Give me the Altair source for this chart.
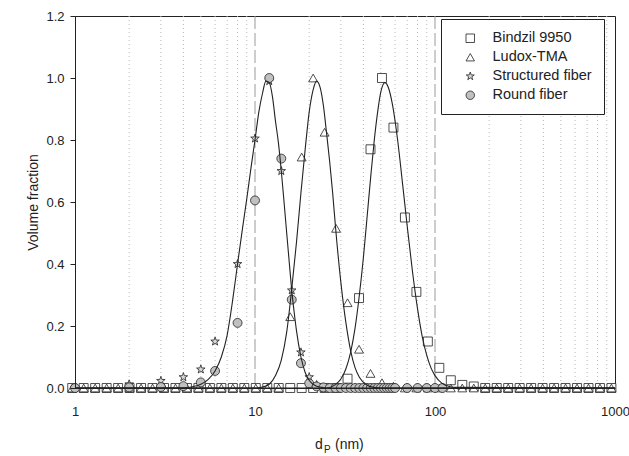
import altair as alt
import pandas as pd

series_names = ["Bindzil 9950", "Ludox-TMA", "Structured fiber", "Round fiber"]

# DLS size classes (nm) shared by Bindzil and Ludox
dls_x = [0.965, 1.117, 1.294, 1.499, 1.736, 2.010, 2.328, 2.696, 3.122, 3.615,
         4.187, 4.849, 5.615, 6.503, 7.531, 8.721, 10.10, 11.70, 13.54, 15.69,
         18.17, 21.04, 24.36, 28.21, 32.67, 37.84, 43.82, 50.75, 58.77, 68.06,
         78.82, 91.28, 105.7, 122.4, 141.8, 164.2, 190.1, 220.2, 255.0, 295.3,
         342.0, 396.1, 458.7, 531.2, 615.1, 712.4, 825.0, 955.4]
bindzil_y = [0, 0, 0, 0, 0, 0, 0, 0, 0, 0,
             0, 0, 0, 0, 0, 0, 0, 0, 0, 0,
             0, 0, 0, 0, 0.03, 0.29, 0.77, 1.0, 0.84, 0.55,
             0.31, 0.15, 0.065, 0.025, 0.01, 0.005, 0, 0, 0, 0,
             0, 0, 0, 0, 0, 0, 0, 0]
ludox_y = [0, 0, 0, 0, 0, 0, 0, 0, 0, 0,
           0, 0, 0, 0, 0, 0, 0, 0, 0, 0.23,
           0.745, 1.0, 0.825, 0.515, 0.275, 0.125, 0.047, 0.017, 0.006, 0,
           0, 0, 0, 0, 0, 0, 0, 0, 0, 0,
           0, 0, 0, 0, 0, 0, 0, 0]

# fiber size classes (nm)
fiber_x = [1, 2, 3, 4, 5, 6, 8, 10, 12, 14, 16, 18, 20, 22, 24, 26, 28, 30, 32,
           34, 36, 38, 40, 42, 44, 46, 48, 50, 52, 54, 56, 58, 60, 70, 80, 90,
           100, 110]
structured_y = [0, 0.012, 0.023, 0.035, 0.06, 0.15, 0.40, 0.805, 0.99, 0.70,
                0.315, 0.115, 0.035, 0.01, 0, 0, 0, 0, 0, 0, 0, 0, 0, 0, 0, 0,
                0, 0, 0, 0, 0, 0, 0, 0, 0, 0, 0, 0]
round_y = [0, 0.002, 0.003, 0.006, 0.018, 0.055, 0.21, 0.605, 1.0, 0.74,
           0.285, 0.08, 0.015, 0.005, 0.002, 0, 0, 0, 0, 0, 0, 0, 0, 0, 0, 0,
           0, 0, 0, 0, 0, 0, 0, 0, 0, 0, 0, 0]

# fitted curves
fiber_curve_x = [1, 4, 4.5, 5, 5.5, 6, 6.5, 7, 7.5, 8, 8.5, 9, 9.5, 10, 10.5,
                 11, 11.5, 12, 12.5, 13, 13.5, 14, 14.5, 15, 15.5, 16, 16.5,
                 17, 18, 19, 20, 21, 22, 24, 25, 1000]
fiber_curve_y = [0, 0, 0.004, 0.012, 0.028, 0.055, 0.10, 0.17, 0.28, 0.40,
                 0.51, 0.61, 0.71, 0.80, 0.89, 0.95, 0.99, 0.985, 0.94, 0.86,
                 0.79, 0.70, 0.60, 0.50, 0.405, 0.315, 0.245, 0.185, 0.10,
                 0.05, 0.025, 0.012, 0.006, 0.001, 0, 0]
ludox_curve_x = [1, 10, 11, 12, 13, 14, 15, 16, 17, 18, 19, 20, 21, 22, 23, 24,
                 25, 26, 27, 28, 30, 32, 34, 36, 38, 42, 46, 50, 1000]
ludox_curve_y = [0, 0, 0.003, 0.012, 0.04, 0.09, 0.18, 0.32, 0.47, 0.63, 0.77,
                 0.89, 0.96, 0.99, 0.97, 0.91, 0.82, 0.73, 0.63, 0.52, 0.34,
                 0.21, 0.12, 0.065, 0.035, 0.009, 0.002, 0, 0]
bindzil_curve_x = [1, 25, 28, 30, 32, 34, 36, 38, 40, 42, 44, 46, 48, 50, 52.7,
                   55, 58, 62, 66, 70, 75, 80, 85, 90, 95, 100, 110, 120, 130,
                   1000]
bindzil_curve_y = [0, 0, 0.011, 0.029, 0.062, 0.116, 0.195, 0.30, 0.42, 0.555,
                   0.685, 0.80, 0.89, 0.955, 0.985, 0.97, 0.915, 0.80, 0.66,
                   0.525, 0.375, 0.255, 0.165, 0.105, 0.065, 0.04, 0.014,
                   0.005, 0.002, 0]

minor_grid = [2, 3, 4, 5, 6, 7, 8, 9, 20, 30, 40, 50, 60, 70, 80, 90,
              200, 300, 400, 500, 600, 700, 800, 900]
major_grid = [10, 100]
x_tick_values = [1, 10, 100, 1000]
y_tick_values = [0, 0.2, 0.4, 0.6, 0.8, 1.0, 1.2]
x_title_parts = ["d", "P", "(nm)"]

STAR = ("M0,-1L0.235,-0.324L0.951,-0.309L0.38,0.124L0.588,0.809L0,0.4"
        "L-0.588,0.809L-0.38,0.124L-0.951,-0.309L-0.235,-0.324Z")
shapes = ["square", "triangle-up", STAR, "circle"]
fills = ["#ffffff", "#ffffff", "#d8d8d8", "#c0c0c0"]
strokes = ["#222222", "#222222", "#222222", "#222222"]

rows = []
for name, xs, ys in [(series_names[0], dls_x, bindzil_y),
                     (series_names[1], dls_x, ludox_y),
                     (series_names[2], fiber_x, structured_y),
                     (series_names[3], fiber_x, round_y)]:
    for xv, yv in zip(xs, ys):
        rows.append({"x": xv, "y": yv, "series": name})
points_df = pd.DataFrame(rows)

crow = []
for name, xs, ys in [("fiber", fiber_curve_x, fiber_curve_y),
                     ("ludox", ludox_curve_x, ludox_curve_y),
                     ("bindzil", bindzil_curve_x, bindzil_curve_y)]:
    for xv, yv in zip(xs, ys):
        crow.append({"x": xv, "y": yv, "curve": name})
curve_df = pd.DataFrame(crow)

FONT = "Liberation Sans"
TXT = "#222222"
x_scale = alt.Scale(type="log", domain=[1, 1000])
y_scale = alt.Scale(domain=[0, 1.2])

x_axis = alt.Axis(
    values=x_tick_values, format="d", grid=False, ticks=False,
    labelPadding=17, title=None, labelFont=FONT, labelFontSize=13,
    labelFlush=False, labelColor=TXT, domainColor="#222222", zindex=1)
y_axis = alt.Axis(
    values=y_tick_values, format=".1f", grid=False, tickSize=5,
    tickColor="#222222", labelPadding=6, title="Volume fraction",
    titleFont=FONT, titleFontSize=14, titleFontWeight="normal",
    titleColor=TXT, titlePadding=5, labelFont=FONT, labelFontSize=13,
    labelColor=TXT, domainColor="#222222", zindex=1)

X = alt.X("x:Q", scale=x_scale, axis=x_axis)
Y = alt.Y("y:Q", scale=y_scale, axis=y_axis)

minor = alt.Chart(pd.DataFrame({"x": minor_grid})).mark_rule(
    color="#b8b8b8", strokeDash=[1, 3], strokeWidth=1
).encode(x=X)

major = alt.Chart(pd.DataFrame({"x": major_grid})).mark_rule(
    color="#9a9a9a", strokeDash=[13, 4], strokeWidth=1
).encode(x=X)

legend = alt.Legend(
    title=None, orient="none", legendX=366, legendY=3, padding=12,
    strokeColor="#222222", fillColor="#ffffff", symbolOffset=10,
    labelFont=FONT, labelFontSize=14.5, labelColor=TXT, rowPadding=4,
    symbolStrokeWidth=0.8, symbolSize=72, labelOffset=15,
)

points = alt.Chart(points_df).mark_point(
    filled=True, strokeWidth=0.8, opacity=1, size=80
).encode(
    x=X, y=Y,
    shape=alt.Shape("series:N", scale=alt.Scale(domain=series_names, range=shapes), legend=legend),
    fill=alt.Fill("series:N", scale=alt.Scale(domain=series_names, range=fills), legend=legend),
    stroke=alt.Stroke("series:N", scale=alt.Scale(domain=series_names, range=strokes), legend=legend),
)

lines = alt.Chart(curve_df).mark_line(
    color="#222222", strokeWidth=1.1, interpolate="monotone"
).encode(x=X, y=Y, detail="curve:N")

t_d = alt.Chart(pd.DataFrame({"t": [x_title_parts[0]]})).mark_text(
    font=FONT, fontSize=14, color=TXT, align="left", baseline="alphabetic"
).encode(x=alt.value(240), y=alt.value(433), text="t:N")
t_p = alt.Chart(pd.DataFrame({"t": [x_title_parts[1]]})).mark_text(
    font=FONT, fontSize=10, color=TXT, align="left", baseline="alphabetic"
).encode(x=alt.value(249), y=alt.value(437), text="t:N")
t_nm = alt.Chart(pd.DataFrame({"t": [x_title_parts[2]]})).mark_text(
    font=FONT, fontSize=14, color=TXT, align="left", baseline="alphabetic"
).encode(x=alt.value(260), y=alt.value(433), text="t:N")

chart = alt.layer(minor, major, points, lines, t_d, t_p, t_nm).properties(
    width=540, height=372, autosize="none",
    padding={"left": 75, "top": 16, "right": 14, "bottom": 68},
).configure_view(stroke="#222222", strokeWidth=1)

chart.save("out.html", embed_options={"renderer": "svg", "actions": False})
